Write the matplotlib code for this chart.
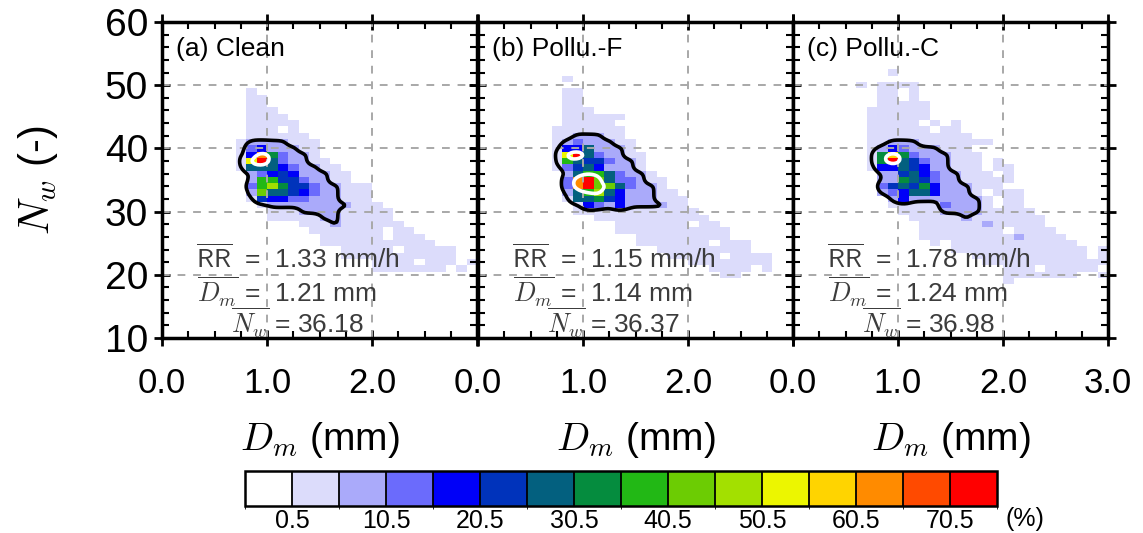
import numpy as np
import matplotlib
matplotlib.use('Agg')
import matplotlib.pyplot as plt
from matplotlib.colors import ListedColormap, BoundaryNorm
from matplotlib.ticker import MultipleLocator

plt.rcParams['font.family'] = ['Liberation Sans', 'DejaVu Sans']
plt.rcParams['mathtext.fontset'] = 'cm'

# ---------------- data ----------------
# Joint frequency (%) of Dm (0.1 mm bins, 0.0-3.0) and Nw (1-unit bins),
# rows from Nw = 52 (top) down to Nw = 19; each character is the colour
# class: '.' < 0.5 %, '1' 0.5-5.5 %, '2' 5.5-10.5 %, ...
# 'f' > 70.5 %
nw_top = 52
nw_bottom = 19
dm_step = 0.1

clean_rows = [
    "", "", "",
    "........1",
    "........11",
    "........11",
    "........111",
    "........1111",
    "........11111",
    "........111.1",
    "........111111",
    ".......12222111",
    ".......13422211",
    ".......14d73221",
    ".......1bf632211",
    ".......1666432211",
    "........2345422211",
    "........2885532211",
    "........38a755322111",
    "........296654322111",
    "........154433222111",
    ".........122222222111",
    "..........111222211111",
    "..........111112211111",
    ".............1112111111",
    "..............1111111.11",
    "...............111111.111",
    "...............11111111111",
    ".................11111.11111",
    ".................11111111111",
    "....................1111.111.1",
    "....................1111111.1",
    "", "",
]

polluf_rows = [
    "",
    "........1",
    "",
    "........11",
    "........11",
    "........11",
    "........111",
    "........111111",
    "........11111",
    ".......1111111",
    ".......1122211",
    ".......12322211",
    ".......14462221",
    ".......1bf632211",
    ".......186553221",
    ".......135642221",
    "........268863221",
    "........3df9633211",
    "........3df9963221",
    "........268a6422211",
    "........166754222111",
    ".........14324222211",
    ".........111111111111",
    "...........11111111111",
    ".............1111111.11",
    ".............11111111111",
    "...............111111111",
    "...............1111111.111",
    ".................111111111",
    "..................11111.1111",
    "....................11111111",
    "......................1111.1",
    ".......................11",
    "",
]

polluc_rows = [
    ".........1",
    "",
    "......1.1111",
    "........11.1",
    "........11.1",
    "........11111",
    ".......111111",
    ".......111111",
    ".......11111.1.1",
    ".......111111.11",
    ".......1111111111",
    ".......112221111111",
    ".......1243222111",
    ".......17c73222111",
    ".......17f65322111.1",
    ".......14465422111.11",
    "........22564322111.1",
    "........2276532211111",
    "........356574222111",
    "........2346642221.111",
    ".........2422222221.11",
    ".........1111132221.11",
    "..........1111222211111",
    "...........1111121111111",
    "............111111211111",
    "............11111111.1111",
    "............11111111121111",
    ".............1.111111111111",
    "...............1111111111111.1",
    ".................11111111111.1",
    "..................111111111111",
    "....................111.11111",
    "....................1111111..1",
    "....................1",
]

panel_titles = ["(a) Clean", "(b) Pollu.-F", "(c) Pollu.-C"]
rr_means = ["1.33", "1.15", "1.78"]
dm_means = ["1.21", "1.14", "1.24"]
nw_means = ["36.18", "36.37", "36.98"]

cbar_bounds = [-4.5] + [0.5 + 5 * i for i in range(15)] + [75.5]
cbar_ticks = [0.5, 10.5, 20.5, 30.5, 40.5, 50.5, 60.5, 70.5]
colors = ['#ffffff', '#dcdcfb', '#aaaafa', '#6b6bfc', '#0000f8', '#0033bb',
          '#03607f', '#058c3e', '#22b815', '#6ccc03', '#a3e000', '#ecf600',
          '#ffd400', '#ff8b00', '#ff4a00', '#ff0000']


def decode(rows, ncol=30):
    codes = '.123456789abcdef'
    grid = np.zeros((len(rows), ncol))
    for i, r in enumerate(rows):
        r = r.ljust(ncol, '.')
        for j, ch in enumerate(r[:ncol]):
            k = codes.index(ch)
            grid[i, j] = 0.0 if k == 0 else 5.0 * k - 2.0   # bin centre (%)
    return grid


def smooth(Z, f, sigma):
    Zu = np.repeat(np.repeat(Z, f, axis=0), f, axis=1)
    r = int(3 * sigma) + 1
    x = np.arange(-r, r + 1)
    k = np.exp(-x ** 2 / (2 * sigma ** 2))
    k /= k.sum()
    Zp = np.pad(Zu, r, mode='constant')
    Zs = np.apply_along_axis(lambda m: np.convolve(m, k, mode='valid'), 0, Zp)
    Zs = np.apply_along_axis(lambda m: np.convolve(m, k, mode='valid'), 1, Zs)
    return Zs


cmap = ListedColormap(colors)
norm = BoundaryNorm(cbar_bounds, cmap.N)

W, H = 1143, 533
fig = plt.figure(figsize=(W / 100, H / 100), dpi=100)

ax_left = [162, 478, 793]
ax_w = 315
ax_top, ax_bot = 22, 338

grids = [decode(clean_rows), decode(polluf_rows), decode(polluc_rows)]
ncol = 30
nrow = nw_top - nw_bottom + 1
x_edges = np.arange(ncol + 1) * dm_step
y_edges = nw_top + 0.5 - np.arange(nrow + 1)

f = 4
xs = (np.arange(ncol * f) + 0.5) / f * dm_step
ys = nw_top + 0.5 - (np.arange(nrow * f) + 0.5) / f

for p in range(3):
    ax = fig.add_axes([ax_left[p] / W, 1 - ax_bot / H, ax_w / W, (ax_bot - ax_top) / H])
    Z = grids[p]
    Zm = np.ma.masked_less(Z, 0.5)
    ax.pcolormesh(x_edges, y_edges, Zm, cmap=cmap, norm=norm, zorder=1)
    for gx in [1.0, 2.0]:
        ax.axvline(gx, color='#a8a8a8', lw=1.4, ls=(0, (4, 4)), zorder=2)
    for gy in [20, 30, 40, 50]:
        ax.axhline(gy, color='#a8a8a8', lw=1.4, ls=(0, (4, 4)), zorder=2)
    Zs = smooth(Z, f, 1.9)
    ax.contour(xs, ys, Zs, levels=[6.5], colors='k', linewidths=2.6, zorder=3)
    Zw = smooth(Z, f, 2.2)
    ax.contour(xs, ys, Zw, levels=[41.0], colors='w', linewidths=2.6, zorder=3)

    ax.set_xlim(0, 3)
    ax.set_ylim(10, 60)
    ax.set_xticks([0, 1, 2, 3])
    if p < 2:
        ax.set_xticklabels(['0.0', '1.0', '2.0', ''])
    else:
        ax.set_xticklabels(['0.0', '1.0', '2.0', '3.0'])
    ax.set_yticks([10, 20, 30, 40, 50, 60])
    ax.xaxis.set_minor_locator(MultipleLocator(0.25))
    ax.yaxis.set_minor_locator(MultipleLocator(2))
    ax.tick_params(which='major', direction='inout', length=12, width=2,
                   top=True, right=True)
    ax.tick_params(axis='x', which='major', labelsize=25, pad=15)
    ax.tick_params(axis='y', which='major', labelsize=28, pad=4)
    ax.tick_params(which='minor', direction='in', length=5, width=1.5,
                   top=True, right=True)
    if p > 0:
        ax.tick_params(axis='y', labelleft=False)
    for s in ax.spines.values():
        s.set_linewidth(2.5)
        s.set_zorder(5)

    ax.text(0.13, 55.8, panel_titles[p], fontsize=19, ha='left', va='center', zorder=6)
    gc = '#3c3c3c'
    ax.text(0.32, 22.6, r'$\overline{\mathsf{RR}}$  =  ' + rr_means[p] + ' mm/h',
            fontsize=19, color=gc, ha='left', va='center', zorder=6)
    ax.text(0.33, 17.3, r'$\overline{\boldsymbol{D_m}}$ =  ' + dm_means[p] + ' mm',
            fontsize=19, color=gc, ha='left', va='center', zorder=6)
    ax.text(0.66, 12.4, r'$\overline{\boldsymbol{N_w}}$ = ' + nw_means[p],
            fontsize=19, color=gc, ha='left', va='center', zorder=6)

    fig.text((ax_left[p] + ax_w / 2) / W, 1 - 440 / H, r'$\boldsymbol{D_m}$ (mm)',
             fontsize=28, ha='center', va='center')

fig.text(38 / W, 1 - 180 / H, r'$\boldsymbol{N_w}$ (-)', fontsize=30, rotation=90,
         ha='center', va='center')

cax = fig.add_axes([245 / W, 1 - 506 / H, 752 / W, 35 / H])
sm = plt.cm.ScalarMappable(cmap=cmap, norm=norm)
cb = fig.colorbar(sm, cax=cax, orientation='horizontal', drawedges=True,
                  ticks=cbar_ticks, spacing='uniform')
cb.ax.set_xticklabels([f'{t:.1f}' for t in cbar_ticks])
cb.ax.tick_params(length=0, labelsize=18, pad=2)
cb.outline.set_linewidth(1.8)
cb.dividers.set_linewidth(1.3)
fig.text(1025 / W, 1 - 519 / H, '(%)', fontsize=18, ha='center', va='center')

fig.savefig('out.png', dpi=100)
